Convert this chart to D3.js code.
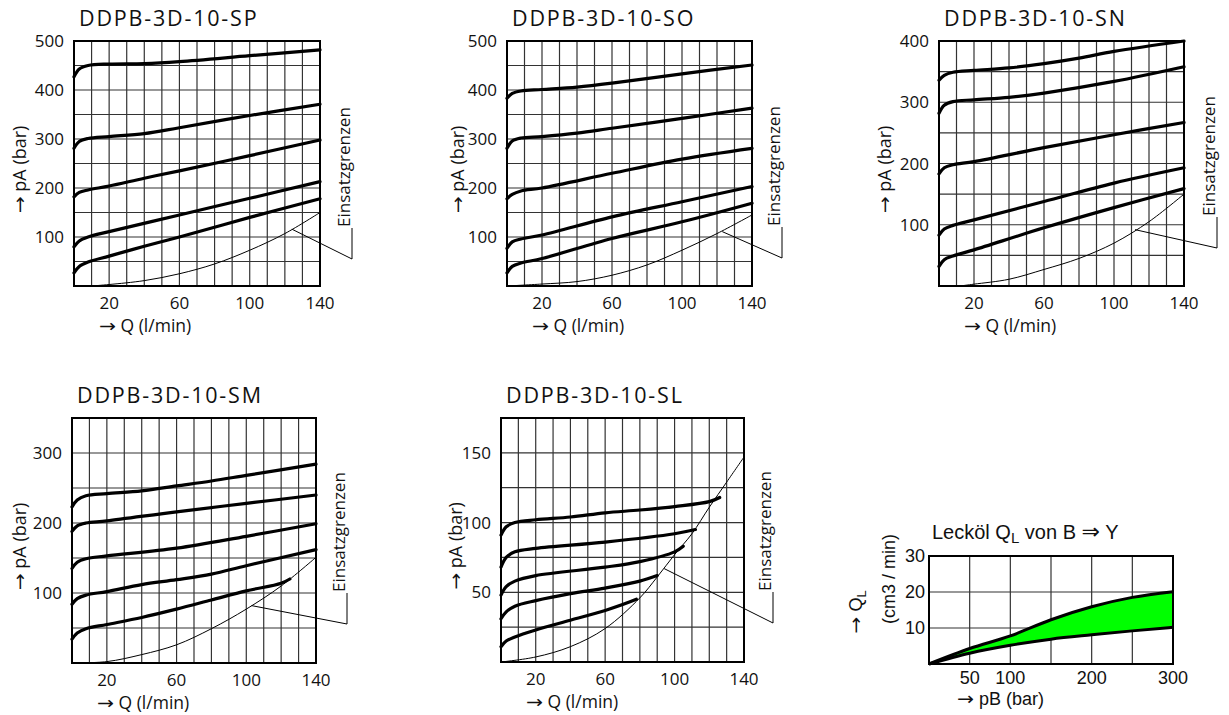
<!DOCTYPE html>
<html>
<head>
<meta charset="utf-8">
<script src="https://d3js.org/d3.v7.min.js"></script>
<style>
  body { margin: 0; background: #fff; }
  text { font-family: "Open Sans", sans-serif; fill: #111; }
  .hv text, text.hv { font-family: "Liberation Sans", Arial, sans-serif; }
  tspan.arr { font-family: "DejaVu Sans", sans-serif; }
</style>
</head>
<body>
<div id="chart"></div>
<script>
// ---- data ----
var qTicks = [20, 60, 100, 140];

// DDPB-3D-10-SP  [Q l/min, pA bar]
var spCurves = [
  [[0,427],[3,443],[8,450],[20,453],[40,454],[60,458],[100,470],[140,482]],
  [[0,281],[3,295],[8,301],[20,305],[40,311],[60,323],[100,348],[140,371]],
  [[0,182],[3,191],[8,196],[20,204],[40,220],[60,235],[100,266],[140,298]],
  [[0,80],[3,92],[8,100],[20,111],[60,145],[100,179],[140,213]],
  [[0,27],[3,40],[8,49],[20,61],[40,81],[60,100],[100,140],[140,178]]
];
var spLimit = [[10,0],[20,3],[40,11],[60,25],[80,45],[100,73],[120,107],[140,150]];

// DDPB-3D-10-SO
var soCurves = [
  [[0,383],[3,393],[8,398],[20,401],[40,406],[60,414],[100,433],[140,451]],
  [[0,281],[3,296],[8,302],[20,305],[40,312],[60,322],[100,342],[140,363]],
  [[0,178],[3,187],[8,194],[20,200],[60,230],[100,259],[140,281]],
  [[0,77],[3,90],[8,96],[20,104],[60,141],[100,172],[140,203]],
  [[0,27],[3,40],[8,47],[20,56],[60,97],[100,131],[140,169]]
];
var soLimit = [[0,0],[20,4],[40,9],[60,22],[80,43],[100,73],[120,107],[140,145]];

// DDPB-3D-10-SN
var snCurves = [
  [[0,336],[3,344],[8,349],[20,352],[40,356],[60,363],[80,372],[100,383],[140,400]],
  [[0,282],[3,295],[8,301],[20,304],[40,308],[60,315],[100,334],[140,358]],
  [[0,183],[3,193],[8,198],[20,203],[60,226],[100,247],[140,267]],
  [[0,83],[3,93],[8,99],[20,108],[60,138],[100,168],[140,193]],
  [[0,32],[3,43],[8,49],[20,59],[60,95],[100,128],[140,159]]
];
var snLimit = [[12,0],[20,3],[40,11],[60,27],[80,45],[100,70],[120,105],[140,150]];

// DDPB-3D-10-SM
var smCurves = [
  [[0,223],[3,233],[8,239],[20,242],[40,246],[60,253],[80,260],[100,268],[140,284]],
  [[0,188],[3,196],[8,200],[20,203],[60,216],[100,228],[140,240]],
  [[0,135],[3,144],[8,149],[20,153],[60,164],[100,181],[140,199]],
  [[0,84],[3,92],[8,97],[20,102],[40,112],[60,119],[80,127],[100,139],[140,162]],
  [[0,34],[3,43],[8,49],[20,55],[40,65],[60,77],[80,90],[100,103],[120,114],[125,120]]
];
var smLimit = [[0,0],[20,2],[40,12],[60,26],[80,49],[100,77],[120,110],[140,151]];

// DDPB-3D-10-SL
var slCurves = [
  [[0,91],[3,97],[8,100],[20,102],[40,104],[60,107],[80,109],[100,111.5],[120,115],[126,118]],
  [[0,68],[3,75],[8,79],[20,81.5],[60,86],[100,92],[112,95]],
  [[0,48],[3,54],[8,58],[20,62],[60,68],[80,72],[100,79],[105,83]],
  [[0,31],[3,36],[8,40],[20,44],[40,49],[60,53],[80,58],[90,62]],
  [[0,11],[3,15],[8,18],[20,23],[40,30],[60,37],[78,45]]
];
var slLimit = [[0,0],[20,3.6],[40,11],[60,24],[80,46],[90,61],[100,77],[110,92],[120,111],[130,129],[140,147]];

// Leckoel QL from B to Y  [pB bar, QL cm3/min]
var leakPB = [0, 50, 100, 150, 200, 250, 300];
var leakHigh = [0, 4.3, 7.8, 12.3, 15.9, 18.5, 20.1];
var leakLow = [0, 3.0, 5.2, 6.9, 8.1, 9.2, 10.2];
var leakXTicks = [50, 100, 200, 300];
var leakYTicks = [10, 20, 30];

var panels = [
  { name: "DDPB-3D-10-SP", curves: spCurves, limit: spLimit, yMax: 500, yStep: 50,
    yTicks: [100, 200, 300, 400, 500], x0: 74, y0: 41, w: 246, h: 245,
    lead: [124, 116], leadDx: 32, leadDy: 27, ytDx: 48 },
  { name: "DDPB-3D-10-SO", curves: soCurves, limit: soLimit, yMax: 500, yStep: 50,
    yTicks: [100, 200, 300, 400, 500], x0: 507, y0: 41, w: 245, h: 245,
    lead: [123, 111], leadDx: 30, leadDy: 28, ytDx: 43 },
  { name: "DDPB-3D-10-SN", curves: snCurves, limit: snLimit, yMax: 400, yStep: 50,
    yTicks: [100, 200, 300, 400], x0: 939, y0: 41, w: 245, h: 245,
    lead: [112, 92], leadDx: 33, leadDy: 38, ytDx: 48 },
  { name: "DDPB-3D-10-SM", curves: smCurves, limit: smLimit, yMax: 350, yStep: 50,
    yTicks: [100, 200, 300], x0: 72, y0: 418, w: 244, h: 245,
    lead: [103, 82], leadDx: 31, leadDy: 39, ytDx: 46 },
  { name: "DDPB-3D-10-SL", curves: slCurves, limit: slLimit, yMax: 175, yStep: 25,
    yTicks: [50, 100, 150], x0: 501, y0: 418, w: 243, h: 244,
    lead: [94, 67], leadDx: 29, leadDy: 39, ytDx: 39 }
];

var svg = d3.select("#chart").append("svg")
  .attr("width", 1229).attr("height", 715);

// arrow glyph stretched to the long arrow of the datasheet
function arrowLabel(sel, rest) {
  sel.append("tspan").attr("class", "arr")
    .attr("textLength", 17).attr("lengthAdjust", "spacingAndGlyphs").text("\u2192");
  sel.append("tspan").text(rest);
  return sel;
}

panels.forEach(function (p) {
  var x = d3.scaleLinear().domain([0, 140]).range([p.x0, p.x0 + p.w]);
  var y = d3.scaleLinear().domain([0, p.yMax]).range([p.y0 + p.h, p.y0]);
  var g = svg.append("g");

  // grid
  g.selectAll("line.v").data(d3.range(10, 140, 10)).enter().append("line")
    .attr("x1", x).attr("x2", x).attr("y1", p.y0).attr("y2", p.y0 + p.h)
    .attr("stroke", "#333").attr("stroke-width", 1.2);
  g.selectAll("line.h").data(d3.range(p.yStep, p.yMax, p.yStep)).enter().append("line")
    .attr("y1", y).attr("y2", y).attr("x1", p.x0).attr("x2", p.x0 + p.w)
    .attr("stroke", "#333").attr("stroke-width", 1.2);
  g.append("rect").attr("x", p.x0).attr("y", p.y0).attr("width", p.w).attr("height", p.h)
    .attr("fill", "none").attr("stroke", "#000").attr("stroke-width", 2);

  var line = d3.line().x(function (d) { return x(d[0]); })
    .y(function (d) { return y(d[1]); }).curve(d3.curveCatmullRom.alpha(0.5));

  g.append("path").attr("d", line(p.limit)).attr("fill", "none")
    .attr("stroke", "#000").attr("stroke-width", 1);
  p.curves.forEach(function (c) {
    g.append("path").attr("d", line(c)).attr("fill", "none")
      .attr("stroke", "#000").attr("stroke-width", 3.2).attr("stroke-linecap", "round");
  });

  // ticks
  g.selectAll("text.yt").data(p.yTicks).enter().append("text")
    .attr("x", p.x0 - 10).attr("y", y).attr("dy", "0.36em")
    .attr("text-anchor", "end").style("font-size", "17px").text(function (d) { return d; });
  g.selectAll("text.xt").data(qTicks).enter().append("text")
    .attr("x", x).attr("y", p.y0 + p.h + 23)
    .attr("text-anchor", "middle").style("font-size", "17px").text(function (d) { return d; });

  // titles
  g.append("text").attr("x", p.x0 + 5).attr("y", p.y0 - 15)
    .style("font-size", "21.5px").style("letter-spacing", "1.8px").text(p.name);
  arrowLabel(g.append("text").attr("x", p.x0 + 25).attr("y", p.y0 + p.h + 46)
    .style("font-size", "17.5px"), " Q (l/min)");
  arrowLabel(g.append("text")
    .attr("transform", "translate(" + (p.x0 - p.ytDx) + "," + (p.y0 + p.h / 2 + 6) + ") rotate(-90)")
    .attr("text-anchor", "middle").style("font-size", "18px"), " pA (bar)");

  // Einsatzgrenzen leader
  var ex = p.x0 + p.w + p.leadDx, ey = p.y0 + p.h - p.leadDy;
  g.append("polyline")
    .attr("points", [[x(p.lead[0]), y(p.lead[1])], [ex, ey], [ex, ey - 31]].join(" "))
    .attr("fill", "none").attr("stroke", "#000").attr("stroke-width", 1);
  g.append("text")
    .attr("transform", "translate(" + (ex - 2) + "," + (ey - 32) + ") rotate(-90)")
    .style("font-size", "17px").text("Einsatzgrenzen");
});

// ---- leakage panel ----
(function () {
  var x0 = 929, y0 = 556, w = 244, h = 108;
  var x = d3.scaleLinear().domain([0, 300]).range([x0, x0 + w]);
  var y = d3.scaleLinear().domain([0, 30]).range([y0 + h, y0]);
  var g = svg.append("g").attr("class", "hv");

  g.selectAll("line.v").data([50, 100, 150, 200, 250]).enter().append("line")
    .attr("x1", x).attr("x2", x).attr("y1", y0).attr("y2", y0 + h)
    .attr("stroke", "#333").attr("stroke-width", 1.2);
  g.selectAll("line.h").data([10, 20]).enter().append("line")
    .attr("y1", y).attr("y2", y).attr("x1", x0).attr("x2", x0 + w)
    .attr("stroke", "#333").attr("stroke-width", 1.2);

  var rows = leakPB.map(function (d, i) { return { p: d, lo: leakLow[i], hi: leakHigh[i] }; });
  var area = d3.area().x(function (d) { return x(d.p); })
    .y0(function (d) { return y(d.lo); }).y1(function (d) { return y(d.hi); })
    .curve(d3.curveMonotoneX);
  g.append("path").attr("d", area(rows)).attr("fill", "#00ff00");

  g.append("rect").attr("x", x0).attr("y", y0).attr("width", w).attr("height", h)
    .attr("fill", "none").attr("stroke", "#000").attr("stroke-width", 2);

  [leakHigh, leakLow].forEach(function (s) {
    var ln = d3.line().x(function (d, i) { return x(leakPB[i]); })
      .y(function (d) { return y(d); }).curve(d3.curveMonotoneX);
    g.append("path").attr("d", ln(s)).attr("fill", "none")
      .attr("stroke", "#000").attr("stroke-width", 3);
  });

  g.selectAll("text.yt").data(leakYTicks).enter().append("text")
    .attr("x", x0 - 4).attr("y", y).attr("dy", "0.36em").attr("text-anchor", "end")
    .style("font-size", "18px").text(function (d) { return d; });
  g.selectAll("text.xt").data(leakXTicks).enter().append("text")
    .attr("x", x).attr("y", y0 + h + 20).attr("text-anchor", "middle")
    .style("font-size", "18px").text(function (d) { return d; });

  var t = g.append("text").attr("x", 932).attr("y", 539).style("font-size", "20px");
  t.append("tspan").text("Leck\u00f6l Q");
  t.append("tspan").attr("dy", 4).style("font-size", "15px").text("L");
  t.append("tspan").attr("dy", -4).text(" von B ");
  t.append("tspan").style("font-family", "DejaVu Sans").style("font-size", "22px").text("\u21d2");
  t.append("tspan").text(" Y");

  arrowLabel(g.append("text").attr("x", 957).attr("y", 705).style("font-size", "18px"),
    " pB (bar)");

  var q = arrowLabel(g.append("text").attr("transform", "translate(862,612) rotate(-90)")
    .attr("text-anchor", "middle").style("font-size", "18px"), " Q");
  q.append("tspan").attr("dy", 4).style("font-size", "13px").text("L");
  g.append("text").attr("transform", "translate(895,579) rotate(-90)")
    .attr("text-anchor", "middle").style("font-size", "18px").text("(cm3 / min)");
})();
</script>
</body>
</html>
